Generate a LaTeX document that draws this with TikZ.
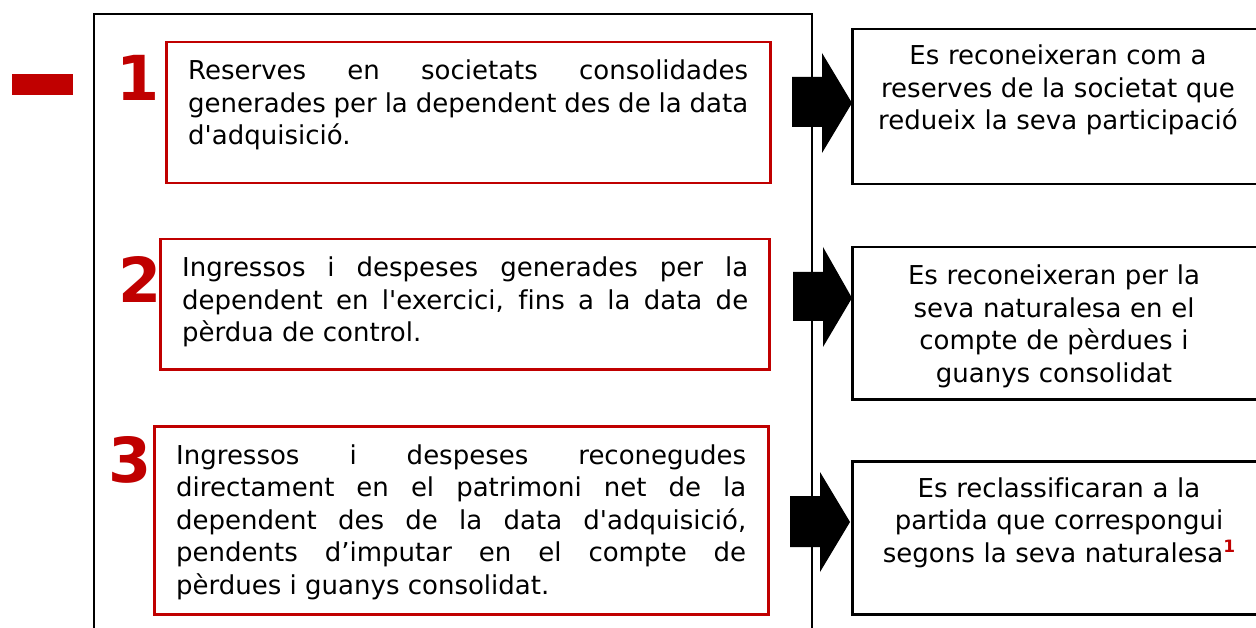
\documentclass[tikz,border=0pt]{standalone}
\usepackage{fontspec}
\newfontfamily\mainf[Ligatures=NoCommon]{DejaVu Sans}
\definecolor{darkred}{HTML}{C00000}
\tikzset{
  redbox/.style={draw=darkred, line width=2.5pt, anchor=north west, inner sep=0pt},
  blackbox/.style={draw=black, line width=2.5pt, anchor=north west, inner sep=0pt},
  lefttxt/.style={anchor=base west, inner sep=0pt, text width=#1, align=justify,
    font=\mainf\fontsize{26}{32.5}\selectfont},
  righttxt/.style={anchor=base, inner sep=0pt, text width=400pt, align=center,
    font=\mainf\fontsize{26}{32.5}\selectfont},
  num/.style={anchor=base, inner sep=0pt, text=darkred, font=\mainf\fontsize{62}{62}\selectfont\bfseries},
  blockarrow/.style={fill=black, draw=none}
}
\begin{document}
\begin{tikzpicture}[x=1pt, y=-1pt]
\useasboundingbox (0,0) rectangle (1256,628);
\clip (0,0) rectangle (1256,628);
\fill[white] (0,0) rectangle (1256,628);
% red dash
\fill[darkred] (12,74) rectangle (73,95);
% main frame
\draw[line width=2pt] (94,660) -- (94,14) -- (812,14) -- (812,660);
% left boxes
\node[redbox, minimum width=604pt, minimum height=141pt] (b1) at (165,41) {};
\node[redbox, minimum width=609pt, minimum height=130pt] (b2) at (159,238) {};
\node[redbox, minimum width=614pt, minimum height=188pt] (b3) at (153,425) {};
\node[lefttxt=560pt] (t1) at (188,80) {Reserves en societats consolidades\linebreak generades per la dependent des de la data\linebreak d'adquisició.};
\node[lefttxt=566pt] (t2) at (182,277) {Ingressos i despeses generades per la\linebreak dependent en l'exercici, fins a la data de\linebreak pèrdua de control.};
\node[lefttxt=570pt] (t3) at (176,464) {Ingressos i despeses reconegudes\linebreak directament en el patrimoni net de la\linebreak dependent des de la data d'adquisició,\linebreak pendents d’imputar en el compte de\linebreak pèrdues i guanys consolidat.};
\node[num] (n1) at (138,101) {1};
\node[num] (n2) at (140,303) {2};
\node[num] (n3) at (130,482) {3};
% right boxes
\node[blackbox, minimum width=420pt, minimum height=155pt] (r1) at (851,28) {};
\node[blackbox, minimum width=420pt, minimum height=152pt] (r2) at (851,246) {};
\node[blackbox, minimum width=420pt, minimum height=153pt] (r3) at (851,460) {};
\node[righttxt] (s1) at (1058,65) {Es reconeixeran com a\\ reserves de la societat que\\ redueix la seva participació};
\node[righttxt] (s2) at (1054,285) {Es reconeixeran per la\\ seva naturalesa en el\\ compte de pèrdues i\\ guanys consolidat};
\node[righttxt] (s3) at (1059,497) {Es reclassificaran a la\\ partida que correspongui\\ segons la seva naturalesa{\color{darkred}\fontsize{17}{17}\selectfont\bfseries\raisebox{10pt}{1}}};
% block arrows
\fill[blockarrow] (792,77) -- (822,77) -- (822,53) -- (852,103) -- (822,153) -- (822,127) -- (792,127) -- cycle;
\fill[blockarrow] (793,272) -- (823,272) -- (823,247) -- (852,298) -- (823,347) -- (823,321) -- (793,321) -- cycle;
\fill[blockarrow] (790,496) -- (820,496) -- (820,472) -- (850,522) -- (820,572) -- (820,547) -- (790,547) -- cycle;
\end{tikzpicture}
\end{document}
